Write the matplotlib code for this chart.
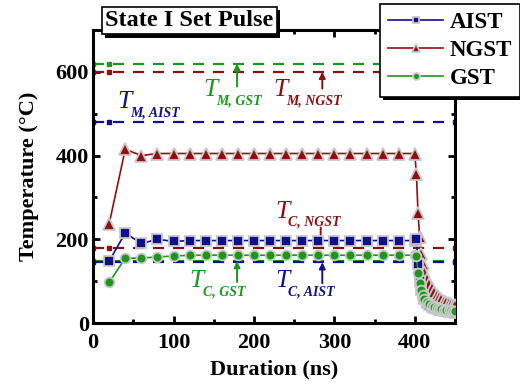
import matplotlib
matplotlib.use("Agg")
import matplotlib.pyplot as plt
import matplotlib.patheffects as pe
from matplotlib.ticker import MultipleLocator

plt.rcParams["font.family"] = "Liberation Serif"
plt.rcParams["font.weight"] = "bold"

# pulse duration (ns)
t = [20, 40, 60, 80, 100, 120, 140, 160, 180, 200, 220, 240, 260, 280, 300,
     320, 340, 360, 380, 400, 402, 404, 406, 408, 410, 412, 415, 418, 421,
     424, 427, 430, 433, 436, 439, 442, 445, 448, 450]

aist = [148, 215, 190, 200, 195, 197, 197, 197, 197, 197, 197, 197, 197, 197,
        197, 197, 197, 197, 197, 197, 200, 140, 100, 80, 66, 57, 48, 42, 38,
        35, 33, 31, 30, 29, 28, 27, 26, 26, 25]
ngst = [237, 415, 400, 405, 405, 405, 405, 405, 405, 405, 405, 405, 405, 405,
        405, 405, 405, 405, 405, 405, 357, 264, 205, 165, 140, 122, 105, 93, 83,
        75, 68, 62, 57, 53, 50, 47, 45, 43, 42]
gst = [97, 155, 155, 158, 160, 162, 162, 162, 162, 162, 162, 162, 162, 162,
       162, 162, 162, 162, 162, 162, 160, 120, 95, 78, 66, 58, 50, 45, 41,
       38, 36, 34, 33, 32, 31, 30, 30, 29, 29]

# melting / crystallisation temperatures (°C)
tm_aist, tm_ngst, tm_gst = 480, 600, 620
tc_aist, tc_ngst, tc_gst = 145, 180, 148

blue = "#10108c"
red = "#8c1010"
green = "#1e961e"

fig = plt.figure(figsize=(5.2, 3.85), dpi=100)
ax = fig.add_axes([0.179, 0.161, 0.696, 0.761])

# reference lines
for y, c in [(tm_gst, green), (tm_ngst, red), (tm_aist, blue),
             (tc_ngst, red), (tc_gst, green), (tc_aist, blue)]:
    ax.plot([0, 20, 450], [y, y, y], color=c, lw=1.6, ls=(0, (5, 4)),
            marker="s", ms=3.5, mec=c, zorder=2)

edge = "#c8c8c8"
ax.plot(t, aist, color=blue, lw=1.2, marker="s", ms=6.5,
        mfc=blue, mec=edge, mew=1.3, label="AIST", zorder=4)
ax.plot(t, ngst, color=red, lw=1.2, marker="^", ms=8.5,
        mfc=red, mec=edge, mew=1.3, label="NGST", zorder=3)
ax.plot(t, gst, color=green, lw=1.2, marker="o", ms=7,
        mfc=green, mec=edge, mew=1.3, label="GST", zorder=5)

ax.set_xlim(0, 450)
ax.set_ylim(0, 700)
ax.xaxis.set_major_locator(MultipleLocator(100))
ax.xaxis.set_minor_locator(MultipleLocator(50))
ax.yaxis.set_major_locator(MultipleLocator(200))
ax.yaxis.set_minor_locator(MultipleLocator(100))
ax.tick_params(which="both", direction="in", top=True, right=True, width=2,
               labelsize=16)
ax.tick_params(axis="y", pad=3)
ax.tick_params(axis="x", pad=7)
ax.tick_params(which="major", length=5)
ax.tick_params(which="minor", length=3)
for s in ax.spines.values():
    s.set_linewidth(2.2)

ax.set_xlabel("Duration (ns)", fontsize=16, fontweight="bold", labelpad=5)
ax.set_ylabel("Temperature (°C)", fontsize=16, fontweight="bold", labelpad=12)


def tlabel(x, y, sub, c):
    # italic T with a small bold-italic subscript
    ax.text(x, y, "T", color=c, fontsize=18.5, style="italic",
            fontweight="normal", ha="left", va="baseline")
    ax.annotate(sub, (x, y), xytext=(9.5, -6), textcoords="offset points",
                color=c, fontsize=10, style="italic", fontweight="bold",
                ha="left", va="baseline")


tlabel(30, 514, "M, AIST", blue)
tlabel(137, 543, "M, GST", green)
tlabel(224, 543, "M, NGST", red)
tlabel(226, 252, "C, NGST", red)
tlabel(120, 86, "C, GST", green)
tlabel(226, 86, "C, AIST", blue)

arr = lambda c: dict(arrowstyle="-|>", color=c, lw=1.4, mutation_scale=9,
                     shrinkA=0, shrinkB=0)
ax.annotate("", xy=(179, 620), xytext=(179, 565), arrowprops=arr(green))
ax.annotate("", xy=(285, 600), xytext=(285, 560), arrowprops=arr(red))
ax.annotate("", xy=(283, 182), xytext=(283, 228), arrowprops=arr(red))
ax.annotate("", xy=(179, 148), xytext=(179, 98), arrowprops=arr(green))
ax.annotate("", xy=(285, 145), xytext=(285, 95), arrowprops=arr(blue))

shadow = [pe.SimplePatchShadow(offset=(2.5, -2.5), shadow_rgbFace="k",
                               alpha=1), pe.Normal()]

leg = ax.legend(loc="upper left", bbox_to_anchor=(380 / 520, 1 - 4 / 385),
                bbox_transform=fig.transFigure, borderaxespad=0,
                fancybox=False, framealpha=1, edgecolor="k", fontsize=16.5,
                handlelength=2.4, handletextpad=0.3, borderpad=0.35,
                labelspacing=0.3, markerscale=0.7)
leg.get_frame().set_linewidth(1.2)
leg.get_frame().set_path_effects(shadow)
leg.set_zorder(10)

title = fig.text(105 / 520, 1 - 26 / 385, "State I Set Pulse", fontsize=17.5,
                 fontweight="bold", ha="left", va="baseline",
                 bbox=dict(boxstyle="square,pad=0.14", fc="w", ec="k", lw=1.2))
title.set_zorder(10)
title.get_bbox_patch().set_path_effects(shadow)

fig.savefig("out.png", dpi=100)
